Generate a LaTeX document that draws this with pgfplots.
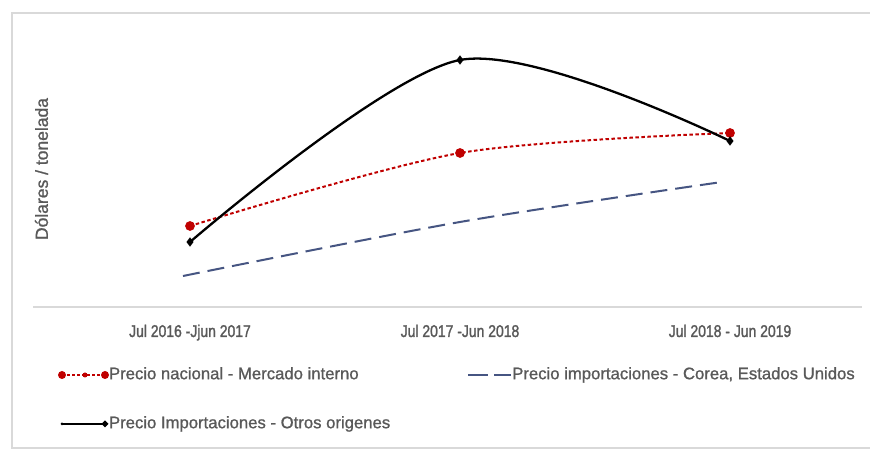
\documentclass[border=0pt]{standalone}
\usepackage{pgfplots}
\pgfplotsset{compat=1.18}
\usepackage{fontspec}
\setmainfont{Liberation Sans}[FakeBold=1.2]
\newfontfamily\narrowfont{Liberation Sans}[FakeStretch=0.82,FakeBold=1.5]
\newfontfamily\boldishfont{Liberation Sans}[FakeBold=1.0]
\definecolor{txt}{HTML}{595959}
\definecolor{framec}{HTML}{D9D9D9}
\definecolor{dred}{HTML}{C00000}
\definecolor{dblue}{RGB}{70,85,130}
\begin{document}
\begin{tikzpicture}[x=1bp,y=1bp]
\useasboundingbox (0,0) rectangle (870,453);
\fill[white] (0,0) rectangle (870,453);
\draw[framec, line width=1.2bp] (870,440) -- (12,440) -- (12,5) -- (870,5);
\node[rotate=90, font=\boldishfont\fontsize{17.5bp}{20bp}\selectfont, text=txt] at (41.5,284) {Dólares / tonelada};
\begin{axis}[
  at={(33bp,146bp)}, anchor=south west, scale only axis,
  width=829bp, height=287bp,
  xmin=-0.5815, xmax=2.4889, ymin=0, ymax=287,
  axis x line*=bottom, axis y line=none,
  x axis line style={framec, line width=1.5bp, -},
  xtick={0,1,2},
  xticklabels={Jul 2016 -Jjun 2017, Jul 2017 -Jun 2018, Jul 2018 - Jun 2019},
  major tick length=0pt, ytick=\empty,
  xticklabel style={font=\narrowfont\fontsize{17bp}{20bp}\selectfont, text=txt, anchor=base, yshift=-30bp},
  clip=false,
  legend columns=2, legend cell align=left,
  legend style={draw=none, fill=none, at={(0.03016,-0.2099)}, anchor=north west,
    inner sep=0pt, outer sep=0pt, font=\boldishfont\fontsize{16.7bp}{20bp}\selectfont, text=txt,
    nodes={inner xsep=0bp, inner ysep=0pt, text height=12bp, text depth=3.5bp},
    row sep=33.5bp,
    /tikz/every even column/.append style={column sep=77bp}},
]
\addplot[dred, line width=2bp, dash pattern=on 3.5bp off 2.5bp, smooth,
  mark=*, mark size=3.8bp, mark options={solid, fill=dred, draw=dred},
  legend image code/.code={
    \draw[dred, line width=2bp, dash pattern=on 3bp off 2bp] (0bp,0bp) -- (43bp,0bp);
    \path[fill=dred, draw=none, solid] (0bp,0bp) circle (4bp);
    \path[fill=dred, draw=none, solid] (23bp,0bp) circle (2.5bp);
    \path[fill=dred, draw=none, solid] (43bp,0bp) circle (4bp);}]
  coordinates {(0,81) (1,154) (2,174)};
\addlegendentry{Precio nacional - Mercado interno}
\addplot[dblue, line width=2bp, dash pattern=on 17bp off 8bp, smooth, no markers,
  legend image code/.code={
    \draw[dblue, line width=2bp, dash pattern=on 20bp off 6bp] (0bp,0bp) -- (43bp,0bp);}]
  coordinates {(-0.026,31) (1,85) (1.97,125)};
\addlegendentry{Precio importaciones - Corea, Estados Unidos}
\addplot[black, line width=2.3bp, smooth, mark=diamond*, mark size=2.8bp, mark options={solid},
  legend image code/.code={
    \draw[black, line width=2bp, solid] (0bp,0bp) -- (43bp,0bp);
    \path[fill=black, draw=none] (0bp,0bp) circle (1.5bp);
    \path[fill=black, draw=none] (43bp,3.5bp) -- (46.5bp,0bp) -- (43bp,-3.5bp) -- (39.5bp,0bp) -- cycle;}]
  coordinates {(0,65) (1,247) (2,166)};
\addlegendentry{Precio Importaciones - Otros origenes}
\end{axis}
\end{tikzpicture}
\end{document}
